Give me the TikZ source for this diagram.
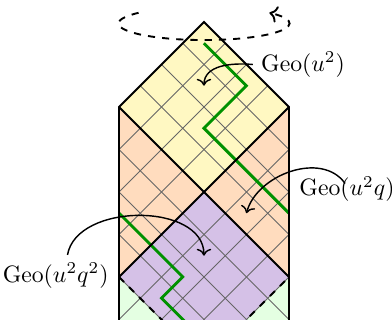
\documentclass[tikz,border=0pt]{standalone}
\usepackage{amsmath,amssymb}
\usepackage{xcolor}
\usepackage{tikz}
\usetikzlibrary{arrows.meta, positioning}
\definecolor{cellyellow}{RGB}{255,248,194}
\definecolor{cellorange}{RGB}{255,220,190}
\definecolor{cellpurple}{RGB}{213,193,231}
\definecolor{cellgreen}{RGB}{228,255,226}
\definecolor{geopath}{RGB}{0,145,0}

\begin{document}
\begin{tikzpicture}[
  x=0.315cm, y=0.315cm,
  edge/.style={thick, line join=miter},
  gridline/.style={black!60, line width=0.35pt},
  geo/.style={very thick, color=geopath},
  lbl/.style={font=\normalsize},
  arr/.style={->, semithick}
]
  \useasboundingbox (-9.6,-14.02) rectangle (8.85,1.035);

  % cylinder strip
  \begin{scope}
    \clip (0,0) -- (-4,-4) -- (-4,-14.2) -- (4,-14.2) -- (4,-4) -- cycle;
    \fill[cellgreen]  (-4,-12) rectangle (4,-14.2);
    \fill[cellorange] (-4,-4) -- (0,-8) -- (-4,-12) -- cycle;
    \fill[cellorange] (4,-4) -- (0,-8) -- (4,-12) -- cycle;
    \fill[cellyellow] (0,0) -- (-4,-4) -- (0,-8) -- (4,-4) -- cycle;
    \fill[cellpurple] (0,-8) -- (-4,-12) -- (0,-16) -- (4,-12) -- cycle;

    \foreach \k in {-20,-18,...,4} {
      \draw[gridline] (-4,\k-4) -- (4,\k+4);
      \draw[gridline] (-4,\k+4) -- (4,\k-4);
    }

    \draw[geo] (0,-1) -- (2,-3) -- (0,-5) -- (4,-9);
    \draw[geo] (-4,-9) -- (-1,-12) -- (-2,-13) -- (0,-15);

    \draw[edge] (-4,-4) -- (4,-12);
    \draw[edge] (4,-4) -- (-4,-12);
    \draw[edge, dashed] (-4,-12) -- (0,-16) -- (4,-12);
  \end{scope}
  \draw[edge] (-4,-14.2) -- (-4,-4) -- (0,0) -- (4,-4) -- (4,-14.2);

  % rotation
  \draw[thick, dashed, ->] (0,-0.07) ++(140:4.02 and 0.78)
    arc[start angle=140, end angle=400, x radius=4.02, y radius=0.78];

  % labels
  \coordinate (cU)   at (0,-3);
  \coordinate (cUQ)  at (2,-9);
  \coordinate (cUQQ) at (0,-11);
  \node[lbl, anchor=west] (geoU)   at (2.30,-2.0)   {$\mathrm{Geo}(u^2)$};
  \node[lbl, anchor=west, inner sep=1pt] (geoUQ) at (4.36,-7.86) {$\mathrm{Geo}(u^2q)$};
  \node[lbl, anchor=east] (geoUQQ) at (-4.10,-11.95) {$\mathrm{Geo}(u^2q^2)$};

  \draw[arr] (geoU.west) to[out=175, in=90] (cU);
  \draw[arr] ([xshift=-0.8pt, yshift=-4.2pt]geoUQ.north) to[out=125, in=75] (cUQ);
  \draw[arr] ([xshift=5pt]geoUQQ.north) to[out=80, in=90] (cUQQ);
\end{tikzpicture}
\end{document}
